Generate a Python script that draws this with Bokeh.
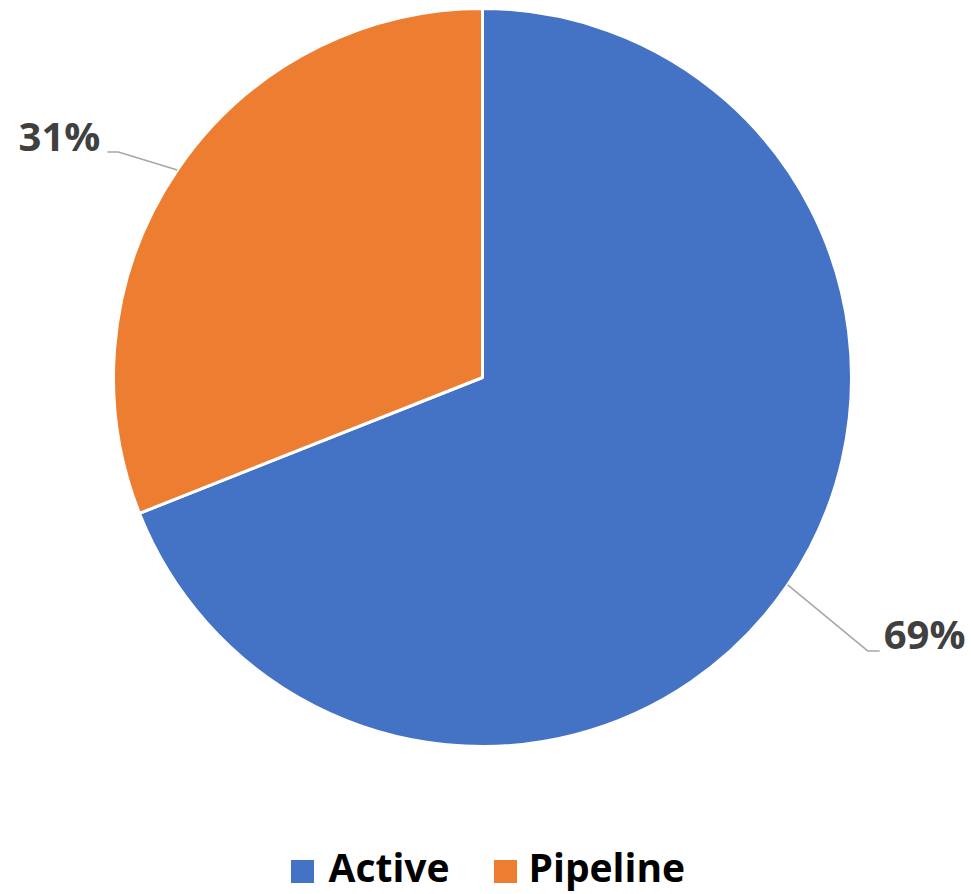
import math
from bokeh.plotting import figure
from bokeh.models import Range1d, ColumnDataSource
from bokeh.core.properties import value
from bokeh.embed import file_html
from bokeh.resources import INLINE

# ---- data ----
categories = ["Active", "Pipeline"]
values = [69, 31]
colors = ["#4472C4", "#ED7D31"]
labels = ["69%", "31%"]

# ---- layout ----
W, H = 971, 894
CX, CY, R = 482, 517, 369
FONT = "Open Sans"
BASE_FIX = 17  # compensation for text baseline placement

p = figure(width=W, height=H, output_backend="svg", toolbar_location=None,
           x_range=Range1d(0, W), y_range=Range1d(0, H), min_border=0,
           outline_line_color=None, background_fill_color="white")
p.axis.visible = False
p.grid.visible = False

total = sum(values)
starts, ends, mids = [], [], []
acc = 0.0
for v in values:
    a0 = math.pi / 2 - 2 * math.pi * acc / total
    acc += v
    a1 = math.pi / 2 - 2 * math.pi * acc / total
    starts.append(a0)
    ends.append(a1)
    mids.append((a0 + a1) / 2)

src = ColumnDataSource(dict(x=[CX] * len(values), y=[CY] * len(values),
                            start=starts, end=ends, color=colors))
p.wedge(x="x", y="y", radius=R, start_angle="start", end_angle="end",
        direction="clock", fill_color="color", line_color="white",
        line_width=3, source=src)

# leader lines and labels
lab_layout = {
    "Active": dict(dx=80, dy=-66, tail=12, align="left", gap=4),
    "Pipeline": dict(dx=-59, dy=18, tail=-11, align="right", gap=-7),
}
for cat, lab, m in zip(categories, labels, mids):
    L = lab_layout[cat]
    px = CX + R * math.cos(m)
    py = CY + R * math.sin(m)
    ex, ey = px + L["dx"], py + L["dy"]
    tx = ex + L["tail"]
    p.line([px, ex, tx], [py, ey, ey], line_color="#A6A6A6", line_width=1.5)
    p.text(x=[tx + L["gap"]], y=[ey + BASE_FIX], text=[lab], text_font=value(FONT),
           text_font_size="40px", text_font_style="bold", text_color="#404040",
           text_align=L["align"], text_baseline="alphabetic")

# legend (manual)
leg_x = [302, 505]
leg_tx = [328, 528]
leg_y = 23
for cat, col, lx, tx in zip(categories, colors, leg_x, leg_tx):
    p.scatter(x=[lx], y=[leg_y], marker="square", size=23, fill_color=col,
              line_color=None)
    p.text(x=[tx], y=[11 + BASE_FIX], text=[cat], text_font=value(FONT),
           text_font_size="39px", text_font_style="bold", text_color="#000000",
           text_align="left", text_baseline="alphabetic")

open("out.html", "w").write(file_html(p, INLINE))
